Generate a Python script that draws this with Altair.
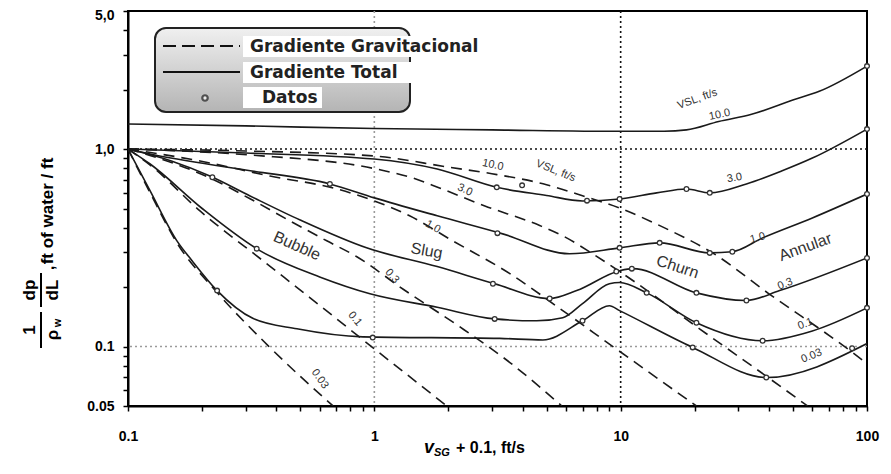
import altair as alt
import pandas as pd

# ---------------- data ----------------
# Total gradient (solid lines), by superficial liquid velocity vSL [ft/s]
tot_10_x = [0.1, 0.3, 1, 3, 10, 15, 18.5, 25, 34, 50, 64, 100]
tot_10_y = [1.34, 1.31, 1.27, 1.25, 1.23, 1.23, 1.25, 1.38, 1.50, 1.77, 1.96, 2.63]
tot_3_x = [0.1, 0.3, 1, 1.8, 3.14, 5, 7, 9.9, 14, 18.5, 23, 32.4, 45, 60, 100]
tot_3_y = [1.0, 0.955, 0.89, 0.792, 0.64, 0.582, 0.546, 0.559, 0.60, 0.628, 0.600, 0.666, 0.774, 0.900, 1.262]
tot_1_x = [0.1, 0.123, 0.3, 0.66, 1, 1.8, 3.32, 6.2, 9.9, 14.4, 23, 28.4, 37.7, 60, 100]
tot_1_y = [1.0, 0.943, 0.783, 0.666, 0.566, 0.459, 0.372, 0.295, 0.316, 0.335, 0.298, 0.302, 0.355, 0.448, 0.592]
tot_03_x = [0.1, 0.15, 0.215, 0.313, 0.5, 0.93, 1.8, 3.08, 5.15, 6.63, 9.9, 11.2, 20.3, 32.4, 44.2, 100]
tot_03_y = [1.0, 0.87, 0.73, 0.579, 0.437, 0.316, 0.254, 0.208, 0.175, 0.192, 0.242, 0.248, 0.187, 0.171, 0.192, 0.281]
tot_01_x = [0.1, 0.123, 0.2, 0.343, 0.6, 0.96, 1.8, 3.08, 4.56, 5.82, 7.0, 9.0, 9.9, 12.75, 20.3, 37.7, 60, 100]
tot_01_y = [1.0, 0.84, 0.50, 0.306, 0.225, 0.185, 0.158, 0.138, 0.135, 0.140, 0.165, 0.208, 0.211, 0.187, 0.132, 0.107, 0.120, 0.157]
tot_003_x = [0.1, 0.123, 0.158, 0.182, 0.23, 0.321, 0.485, 0.898, 3.23, 4.83, 7.0, 9.0, 9.9, 19.6, 39.1, 100]
tot_003_y = [1.0, 0.614, 0.343, 0.272, 0.192, 0.139, 0.123, 0.112, 0.110, 0.108, 0.135, 0.161, 0.152, 0.099, 0.0697, 0.1036]

# Gravitational gradient (dashed lines)
grav_10_x = [0.1, 0.3, 1, 2, 3, 5, 7, 10, 15, 23.6, 40, 85, 100]
grav_10_y = [1.0, 0.978, 0.922, 0.81, 0.75, 0.66, 0.58, 0.50, 0.40, 0.298, 0.185, 0.0957, 0.082]
grav_3_x = [0.1, 0.313, 1.02, 1.43, 1.84, 2.81, 4.69, 5.93, 7.69, 11.2, 20.9, 39.1, 57.4]
grav_3_y = [1.0, 0.933, 0.792, 0.714, 0.635, 0.515, 0.41, 0.359, 0.295, 0.216, 0.123, 0.0706, 0.05]
grav_1_x = [0.1, 0.196, 0.377, 0.705, 1.0, 1.39, 2.08, 3.55, 5.82, 9.3, 20.3]
grav_1_y = [1.0, 0.870, 0.730, 0.628, 0.546, 0.459, 0.343, 0.234, 0.152, 0.10, 0.05]
grav_03_x = [0.1, 0.148, 0.215, 0.313, 0.454, 0.641, 0.849, 1.31, 2.18, 3.55, 5.77]
grav_03_y = [1.0, 0.86, 0.714, 0.56, 0.433, 0.343, 0.285, 0.195, 0.128, 0.083, 0.05]
grav_01_x = [0.1, 0.123, 0.196, 0.353, 0.547, 1.02, 1.97]
grav_01_y = [1.0, 0.83, 0.486, 0.272, 0.177, 0.0955, 0.05]
grav_003_x = [0.1, 0.123, 0.158, 0.23, 0.377, 0.68]
grav_003_y = [1.0, 0.60, 0.335, 0.188, 0.0989, 0.05]

# Measured data points ("Datos")
datos_x = [100, 3.14, 3.98, 7.3, 9.9, 18.5, 23, 100,
           0.66, 3.16, 9.9, 14.4, 23, 28.4, 100,
           0.22, 3.03, 5.15, 9.6, 11.1, 20.3, 32.4, 100,
           0.333, 3.08, 12.75, 20.3, 37.7, 100,
           0.23, 0.985, 7.0, 19.6, 39, 87]
datos_y = [2.63, 0.64, 0.655, 0.548, 0.559, 0.628, 0.600, 1.262,
           0.666, 0.375, 0.316, 0.335, 0.298, 0.302, 0.592,
           0.72, 0.208, 0.175, 0.24, 0.248, 0.187, 0.171, 0.281,
           0.313, 0.138, 0.187, 0.132, 0.107, 0.157,
           0.192, 0.111, 0.135, 0.099, 0.0697, 0.098]

# Flow-regime labels
regime_text = ["Bubble", "Slug", "Churn", "Annular"]
regime_x = [0.485, 1.63, 17.0, 56.2]
regime_y = [0.323, 0.305, 0.253, 0.319]
regime_angle = [24, 10, 18, -20]

# Curve labels
curve_text = ["VSL, ft/s", "10.0", "3.0", "1.0", "0.3", "0.1", "0.03",
              "10.0", "VSL, ft/s", "3.0", "1.0", "0.3", "0.1", "0.03"]
curve_x = [20.5, 25.2, 29.0, 36.0, 46.6, 56.2, 59.6,
           3.03, 5.45, 2.33, 1.73, 1.18, 0.834, 0.601]
curve_y = [1.79, 1.49, 0.713, 0.354, 0.207, 0.130, 0.0895,
           0.830, 0.774, 0.620, 0.403, 0.227, 0.138, 0.0685]
curve_angle = [-20, -12, -10, -15, -22, -20, -22,
               12, 22, 25, 30, 50, 50, 55]

# Reference grid lines
grid_x_dark = [10]
grid_x_light = [1]
grid_y_dark = [1]
grid_y_light = [0.1]

x_ticks = [0.1, 0.2, 0.3, 0.4, 0.5, 0.6, 0.7, 0.8, 0.9,
           1, 2, 3, 4, 5, 6, 7, 8, 9,
           10, 20, 30, 40, 50, 60, 70, 80, 90, 100]
y_ticks = [0.05, 0.06, 0.07, 0.08, 0.09,
           0.1, 0.2, 0.3, 0.4, 0.5, 0.6, 0.7, 0.8, 0.9,
           1, 2, 3, 4, 5]

# ---------------- tables ----------------
def long_table(items):
    rows = []
    for name, xs, ys in items:
        rows += [{"vsl": name, "x": a, "y": b} for a, b in zip(xs, ys)]
    return pd.DataFrame(rows)

solid_df = long_table([("10.0", tot_10_x, tot_10_y), ("3.0", tot_3_x, tot_3_y),
                       ("1.0", tot_1_x, tot_1_y), ("0.3", tot_03_x, tot_03_y),
                       ("0.1", tot_01_x, tot_01_y), ("0.03", tot_003_x, tot_003_y)])
dash_df = long_table([("10.0", grav_10_x, grav_10_y), ("3.0", grav_3_x, grav_3_y),
                      ("1.0", grav_1_x, grav_1_y), ("0.3", grav_03_x, grav_03_y),
                      ("0.1", grav_01_x, grav_01_y), ("0.03", grav_003_x, grav_003_y)])
pts_df = pd.DataFrame({"x": datos_x, "y": datos_y})
reg_df = pd.DataFrame({"t": regime_text, "x": regime_x, "y": regime_y,
                       "a": [a % 360 for a in regime_angle]})
lab_df = pd.DataFrame({"t": curve_text, "x": curve_x, "y": curve_y,
                       "a": [a % 360 for a in curve_angle]})

# ---------------- scales / axes ----------------
FONT = "Liberation Sans"
x_scale = alt.Scale(type="log", domain=[0.1, 100], nice=False)
y_scale = alt.Scale(type="log", domain=[0.05, 5], nice=False)

x_axis = alt.Axis(values=x_ticks,
                  labelExpr="datum.value == 0.1 ? '0.1' : datum.value == 1 ? '1' : datum.value == 10 ? '10' : datum.value == 100 ? '100' : ''",
                  labelOverlap=False, labelFlush=False, grid=False,
                  tickSize=5, tickWidth=1.5, tickColor="black",
                  domainColor="black", domainWidth=2,
                  labelFont=FONT, labelFontWeight="bold", labelFontSize=14,
                  labelColor="black", labelPadding=18, title=None)
y_axis = alt.Axis(values=y_ticks,
                  labelExpr="datum.value == 5 ? '5,0' : datum.value == 1 ? '1,0' : datum.value == 0.1 ? '0.1' : datum.value == 0.05 ? '0.05' : ''",
                  labelOverlap=False, labelFlush=False, grid=False,
                  tickSize=5, tickWidth=1.5, tickColor="black",
                  domainColor="black", domainWidth=2,
                  labelFont=FONT, labelFontWeight="bold", labelFontSize=14,
                  labelColor="black", labelPadding=9,
                  labelOffset={"condition": {"test": "datum.value == 5", "value": 4}, "value": 0},
                  title=None)

X = alt.X("x:Q", scale=x_scale, axis=x_axis)
Y = alt.Y("y:Q", scale=y_scale, axis=y_axis)

# ---------------- layers ----------------
def grid_v(vals, color):
    return alt.Chart(pd.DataFrame({"x": vals})).mark_rule(
        color=color, strokeWidth=1.6, strokeDash=[2, 3]).encode(x=X)

def grid_h(vals, color):
    return alt.Chart(pd.DataFrame({"y": vals})).mark_rule(
        color=color, strokeWidth=1.6, strokeDash=[2, 3]).encode(y=Y)

grids = [grid_v(grid_x_dark, "#111"), grid_v(grid_x_light, "#9a9a9a"),
         grid_h(grid_y_dark, "#111"), grid_h(grid_y_light, "#9a9a9a")]

solid = alt.Chart(solid_df).mark_line(color="#1a1a1a", strokeWidth=1.6,
                                      interpolate="monotone", clip=True).encode(
    x=X, y=Y, detail="vsl:N")
dashed = alt.Chart(dash_df).mark_line(color="#1a1a1a", strokeWidth=1.6,
                                      strokeDash=[11, 7], interpolate="monotone",
                                      clip=True).encode(x=X, y=Y, detail="vsl:N")
points = alt.Chart(pts_df).mark_point(shape="circle", filled=True, fill="white",
                                      stroke="#333", strokeWidth=1.3, size=22,
                                      opacity=1).encode(x=X, y=Y)
regimes = alt.Chart(reg_df).mark_text(font=FONT, fontSize=16, color="#333").encode(
    x=X, y=Y, text="t:N", angle=alt.Angle("a:Q", scale=None))
labels = alt.Chart(lab_df).mark_text(font=FONT, fontSize=11, color="#333").encode(
    x=X, y=Y, text="t:N", angle=alt.Angle("a:Q", scale=None))

one = pd.DataFrame({"k": [0]})

def txt(s, px, py, **kw):
    return alt.Chart(one).mark_text(text=s, **kw).encode(x=alt.value(px), y=alt.value(py))

def seg(x1, x2, y1, y2, **kw):
    return alt.Chart(one).mark_rule(**kw).encode(
        x=alt.value(x1), x2=alt.value(x2), y=alt.value(y1), y2=alt.value(y2))

def box(x1, x2, y1, y2, **kw):
    return alt.Chart(one).mark_rect(**kw).encode(
        x=alt.value(x1), x2=alt.value(x2), y=alt.value(y1), y2=alt.value(y2))

# Legend (drawn in pixel space of the plot area)
grad = alt.LinearGradient(gradient="linear",
                          stops=[alt.GradientStop(offset=0, color="#f0f0f0"),
                                 alt.GradientStop(offset=1, color="#b4b4b4")],
                          x1=0, x2=0, y1=0, y2=1)
LF = dict(font="DejaVu Sans", fontWeight="bold", fontSize=17, color="#222",
          align="left", baseline="middle")
legend = [
    box(27, 282, 17, 101, fill=grad, stroke="#222", strokeWidth=2, cornerRadius=11),
    box(115, 399, 25, 46, fill="white"),
    box(115, 290, 51, 72, fill="white"),
    box(115, 194, 76, 97, fill="white"),
    seg(35, 112, 35, 35, color="#111", strokeWidth=2, strokeDash=[13, 6]),
    seg(35, 112, 61, 61, color="#111", strokeWidth=2),
    alt.Chart(one).mark_point(shape="circle", filled=True, fill="white", stroke="#222",
                              strokeWidth=2.2, size=30).encode(x=alt.value(77), y=alt.value(87)),
    txt("Gradiente Gravitacional", 122, 36, **LF),
    txt("Gradiente Total", 122, 62, **LF),
    txt("Datos", 134, 87, **LF),
]

# Y-axis title: 1/rho_w * dp/dL, ft of water / ft
TF = dict(font=FONT, fontWeight="bold", fontSize=17, color="black", angle=270,
          baseline="middle", align="center")
ytitle = [
    txt("1", -98, 319, **TF),
    seg(-87, -87, 301, 337, color="black", strokeWidth=2),
    txt("ρ", -75, 324, **TF),
    txt("w", -70, 312, **dict(TF, fontSize=11)),
    txt("dp", -98, 279, **TF),
    seg(-87, -87, 262, 296, color="black", strokeWidth=2),
    txt("dL", -75, 279, **TF),
    txt(",", -79, 257, **TF),
    txt("ft of water / ft", -80, 200, **TF),
]

# X-axis title: vSG + 0.1, ft/s
XF = dict(font=FONT, fontWeight="bold", color="black", align="left", baseline="middle")
xtitle = [
    txt("v", 296, 437, fontStyle="italic", fontSize=18, **XF),
    txt("SG", 306, 442, fontStyle="italic", fontSize=11, **XF),
    txt("+ 0.1,  ft/s", 328, 437, fontSize=16, **XF),
]

chart = alt.layer(
    *grids, dashed, solid, points, regimes, labels, *legend, *ytitle, *xtitle
).properties(
    width=739, height=395,
    autosize=alt.AutoSizeParams(type="none"),
    padding={"left": 120, "top": 3, "right": 16, "bottom": 56},
    background="white",
).configure_view(stroke="black", strokeWidth=2)

chart.save("out.html", embed_options={"renderer": "svg", "actions": False})
